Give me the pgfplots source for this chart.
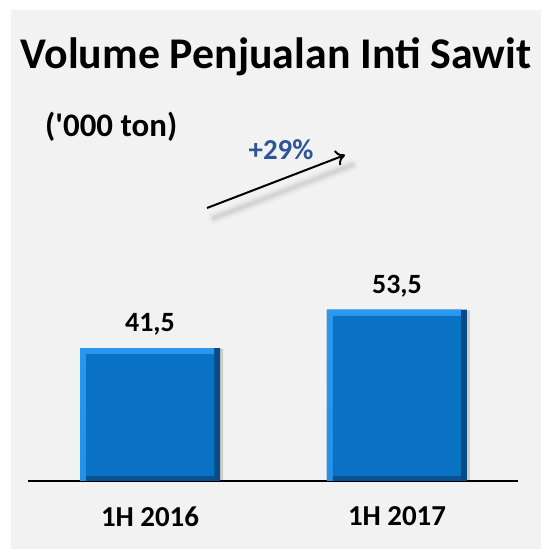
\documentclass[border=0pt]{standalone}
\usepackage{fontspec}
\setmainfont{Carlito}
\usepackage{pgfplots}
\pgfplotsset{compat=1.18}
\usetikzlibrary{arrows.meta}
\definecolor{bg}{HTML}{F2F2F2}
\definecolor{face}{HTML}{0A72C5}
\definecolor{bevL}{HTML}{2A99F0}
\definecolor{bevD}{HTML}{0A4B84}
\definecolor{pct}{HTML}{2E5597}
\begin{document}
\begin{tikzpicture}[x=1bp,y=1bp]
\useasboundingbox (0,0) rectangle (541,549);
\fill[white] (0,0) rectangle (541,549);
\fill[bg] (11,0) rectangle (541,539);
\node[font=\bfseries\fontsize{44}{52}\selectfont] at (276,492) {Volume Penjualan Inti Sawit};
\node[font=\bfseries\fontsize{33}{38}\selectfont, anchor=west, inner sep=0pt] at (45,422) {(\textquotesingle 000 ton)};
\node[font=\bfseries\fontsize{29}{34}\selectfont, text=pct] at (281,399) {+29\%};
% arrow shadow
\foreach \w/\o in {12/0.05,8/0.08,4/0.14}{
  \draw[line width=\w bp, gray, opacity=\o, line cap=round] (214,331) -- (352,384);
}
\draw[line width=2bp, black, -{To[length=9bp,width=16bp,line width=2bp]}] (207,341) -- (345,394);
\begin{axis}[at={(28bp,68bp)}, anchor=south west, scale only axis,
  width=490bp, height=381bp, xmin=-0.494, xmax=1.49, ymin=0, ymax=119,
  axis x line*=bottom, axis y line=none,
  xtick={0,1}, xticklabels={1H 2016,1H 2017}, major tick length=0pt,
  x axis line style={black, line width=1.5bp},
  xticklabel style={font=\bfseries\fontsize{29}{34}\selectfont, yshift=-22bp},
  ybar, clip=false]
% shadow
\addplot[ybar, bar width=140bp, bar shift=3bp, draw=none, fill=black, fill opacity=0.15, forget plot]
  coordinates {(0,41.3) (1,53.3)};
% outer dark (right and bottom bevel)
\addplot[ybar, bar width=140bp, bar shift=0bp, draw=none, fill=bevD, forget plot]
  coordinates {(0,41.5) (1,53.5)};
% light (left and top bevel)
\addplot[ybar, bar width=134bp, bar shift=-3bp, draw=none, top color=bevL, bottom color=bevL!80!face, forget plot]
  coordinates {(0,41.5) (1,53.5)};
% inner face
\addplot[ybar, bar width=128bp, bar shift=0bp, draw=none, fill=face, forget plot]
  coordinates {(0,39.6) (1,51.6)};
% bottom bevel
\addplot[ybar, bar width=128bp, bar shift=0bp, draw=none, fill=bevD!85!face, forget plot]
  coordinates {(0,1.5) (1,1.5)};
% labels
\addplot[ybar, bar width=140bp, bar shift=0bp, draw=none, fill=none,
  nodes near coords={\pgfmathprintnumber[fixed,precision=1,fixed zerofill,use comma,assume math mode=true]{\pgfplotspointmeta}},
  nodes near coords style={font=\bfseries\fontsize{28}{32}\selectfont, text=black, anchor=south, yshift=9bp}]
  coordinates {(0,41.5) (1,53.5)};
\end{axis}
\end{tikzpicture}
\end{document}
